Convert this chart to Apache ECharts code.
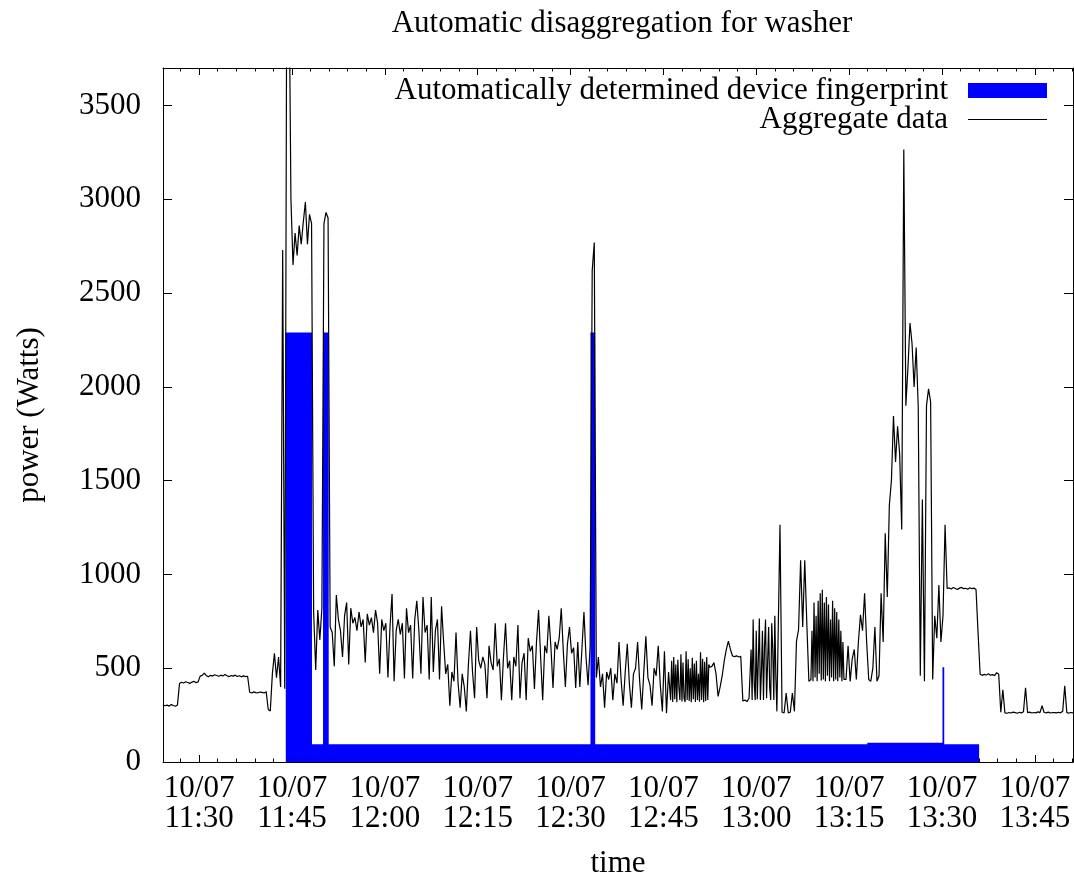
<!DOCTYPE html>
<html>
<head>
<meta charset="utf-8">
<title>Automatic disaggregation for washer</title>
<script src="https://cdn.jsdelivr.net/npm/echarts@6/dist/echarts.min.js"></script>
<style>
  html, body { margin: 0; padding: 0; background: #ffffff; }
  #chart { width: 1074px; height: 874px; }
</style>
</head>
<body>
<div id="chart"></div>
<script>
// ---- data ----------------------------------------------------------------
const chartTitle = 'Automatic disaggregation for washer';
const dateLabel = '10/07';
const tickTimes = ['11:30', '11:45', '12:00', '12:15', '12:30', '12:45', '13:00', '13:15', '13:30', '13:45'];
const powerTicks = [0, 500, 1000, 1500, 2000, 2500, 3000, 3500];

// aggregate meter readings, logged in runs; each run has its own start time and sample period
const runStarts = ['11:24:10', '12:46:10', '12:52:50', '12:59:10', '13:03:50', '13:08:50', '13:14:30'];
const runStepSeconds = [20, 10, 20, 10, 20, 10, 20];

const watts1 = [   // 11:24:10 - 12:45:50
  305, 300, 303, 298, 306, 301, 297, 304,
  418, 425, 421, 428, 424, 419, 426, 430, 423, 427,
  458, 462, 474, 460, 455, 462, 458, 465, 461, 457, 463, 459, 466, 460, 455, 461, 458, 463, 456, 460, 454, 459, 455, 457,
  372, 368, 374, 370, 369, 373, 371, 368, 375,
  280, 272, 470, 580, 450, 560, 400,
  2730, 390, 4300, 4300, 3000, 2650,
  2820, 2700, 2860, 2760, 2880, 2985, 2760, 2920, 2870,
  800, 490, 810, 650, 820,
  2870, 2930, 2900, 720,
  690, 510, 890, 760, 700, 560, 780, 850, 520, 820, 740, 770, 700, 800, 720, 760, 530, 790, 730, 770,
  690, 810, 740, 470, 760, 700, 740, 450, 720, 895, 430, 700, 760, 680, 740, 445, 820, 690, 730, 445,
  760, 860, 700, 470, 880, 690, 730, 440, 880, 480, 700, 760, 440, 830, 640,
  470, 520, 300, 480, 430, 690, 420, 290, 470, 400, 270, 520,
  700, 480, 340, 720, 540, 500, 560, 520, 340, 620, 530, 490, 740, 510, 550, 330, 560, 740, 500, 540,
  330, 560, 510, 730, 340, 530, 580, 330, 660,
  590, 620, 390, 640, 810, 560, 330, 620, 580, 780, 610, 395, 640, 600, 660, 820, 590, 400, 630, 720,
  580, 610, 395, 640, 400, 600, 800, 560, 410, 620,
  2620, 2770, 450,
  560, 400, 470, 290, 480, 440, 500, 330, 470, 420, 640, 440, 300, 480, 630, 420, 290, 470, 500, 640,
  430, 280, 480, 670, 450, 410, 300, 500, 460, 620, 410, 270, 590, 260, 480
];
const watts2 = [   // 12:46:10 - 12:52:30
  330, 540, 320, 560, 335, 520, 318, 545, 400, 330, 575, 322, 530, 340, 320, 590, 330, 548, 325, 500,
  318, 556, 335, 525, 320, 540, 330, 470, 322, 585, 330, 550, 318, 535, 325, 560, 330, 520, 505
];
const watts3 = [   // 12:52:50 - 12:58:50
  510, 530, 470, 350, 400, 460, 540, 600, 645, 600, 565, 562, 566, 560, 563, 325, 330, 322, 340
];
const watts4 = [   // 12:59:10 - 13:03:30
  600, 330, 760, 420, 330, 700, 335, 540, 765, 330, 480, 700, 330, 620, 760, 340, 330, 720, 400, 330,
  740, 600, 330, 780, 450, 270, 265
];
const watts5 = [   // 13:03:50 - 13:08:30
  1265, 265, 262, 368, 262, 265, 368, 270, 645, 705, 1075, 720, 1075, 740, 430
];
const watts6 = [   // 13:08:50 - 13:14:10
  440, 700, 430, 850, 450, 780, 430, 860, 470, 900, 435, 918, 440, 850, 430, 880, 460, 840, 430, 760,
  450, 860, 430, 820, 440, 800, 430, 760, 450, 700, 430, 640, 440
];
const watts7 = [   // 13:14:30 - 13:51:10
  440, 620, 430, 550, 600, 440, 640, 785, 700, 900, 640, 440, 430, 500, 720, 430, 460, 900, 640,
  1220, 880, 1370, 1500, 1845, 1600, 1790, 1640, 1240, 3265, 1900, 2100, 2340, 2230, 2000, 2210,
  1890, 460, 1400, 430, 1900, 1990, 1920, 440, 780, 660, 944, 640, 780, 1265, 925,
  928, 922, 930, 925, 920, 927, 931, 924, 926, 921, 929, 924, 927, 920, 687, 468,
  462, 467, 464, 470, 463, 466, 461, 476, 468,
  265, 385, 262, 260, 264, 261, 266, 263, 260, 265, 262, 268, 396, 263, 266, 261, 264, 262, 267, 263,
  300, 264, 262, 266, 261, 264, 263, 262, 265, 262, 270, 406, 263, 261, 264, 262
];
const runWatts = [watts1, watts2, watts3, watts4, watts5, watts6, watts7];

// detected appliance power: each level holds until the next change time
const fingerprintTimes = ['11:44:00', '11:48:14', '11:50:01', '11:50:56', '12:33:13', '12:33:59',
                          '13:17:56', '13:30:05', '13:30:22', '13:36:00'];
const fingerprintWatts = [2290, 94, 2290, 94, 2290, 94, 103, 505, 94, 0];

// ---- helpers ---------------------------------------------------------------
function toMinutes(hms) {
  const p = hms.split(':').map(Number);
  return p[0] * 60 + p[1] + (p[2] || 0) / 60;
}
function two(n) { return (n < 10 ? '0' : '') + n; }

const aggregateData = [];
runWatts.forEach((run, k) => {
  const t0 = toMinutes(runStarts[k]);
  run.forEach((w, i) => aggregateData.push([t0 + i * runStepSeconds[k] / 60, w]));
});

// piecewise-constant outline: at each change time, close the old level and open the new one
const fingerprintData = [];
fingerprintTimes.forEach((t, i) => {
  const m = toMinutes(t);
  fingerprintData.push([m, i > 0 ? fingerprintWatts[i - 1] : 0]);
  fingerprintData.push([m, fingerprintWatts[i]]);
});

const xMin = aggregateData[0][0];
const xMax = aggregateData[aggregateData.length - 1][0];

const majorTicks = tickTimes.map(toMinutes);
const minorTicks = [];
for (let m = Math.ceil(xMin / 3) * 3; m <= xMax; m += 3) minorTicks.push(m);

const FONT = 'Liberation Serif';
const FS = 31;
const black = '#000000';
const blue = '#0000ff';

function xAxisDef(position, ticks, len, withLine, withLabels) {
  return {
    type: 'value', position: position, min: xMin, max: xMax,
    axisLine: { show: withLine, onZero: false, lineStyle: { color: black, width: 1 } },
    axisTick: { show: true, inside: true, length: len, customValues: ticks, lineStyle: { color: black, width: 1 } },
    axisLabel: withLabels ? {
      show: true, customValues: majorTicks, margin: 12, color: black,
      fontFamily: FONT, fontSize: FS, lineHeight: 30,
      formatter: v => {
        const total = Math.round(v);
        return dateLabel + '\n' + two(Math.floor(total / 60)) + ':' + two(total % 60);
      }
    } : { show: false },
    splitLine: { show: false },
    name: withLabels ? 'time' : '',
    nameLocation: 'middle', nameGap: 86,
    nameTextStyle: { fontFamily: FONT, fontSize: FS, color: black }
  };
}

// the fingerprint is one filled step polygon, every vertex placed through the axes
function renderFingerprint(params, api) {
  if (params.dataIndex !== 0) return null;
  const pts = fingerprintData.map(d => api.coord(d));
  return {
    type: 'polygon',
    shape: { points: pts },
    style: { fill: blue, stroke: null }
  };
}

const chart = echarts.init(document.getElementById('chart'), null, { renderer: 'canvas' });
chart.setOption({
  animation: false,
  backgroundColor: '#ffffff',
  title: {
    text: chartTitle, left: 622, top: 8, textAlign: 'center', padding: 0,
    textStyle: { fontFamily: FONT, fontSize: FS, fontWeight: 'normal', color: black }
  },
  legend: [
    {
      data: [{ name: 'Automatically determined device fingerprint', icon: 'rect', itemStyle: { color: blue } }],
      right: 27, top: 75, padding: 0, align: 'right', itemWidth: 79, itemHeight: 15,
      selectedMode: false,
      textStyle: { fontFamily: FONT, fontSize: FS, color: black, padding: [0, 15, 0, 0] }
    },
    {
      data: [{ name: 'Aggregate data', icon: 'rect', itemStyle: { color: black } }],
      right: 27, top: 104, padding: 0, align: 'right', itemWidth: 79, itemHeight: 1,
      selectedMode: false,
      textStyle: { fontFamily: FONT, fontSize: FS, color: black, padding: [0, 15, 0, 0] }
    }
  ],
  grid: { left: 163, right: 1, top: 68, bottom: 112, containLabel: false, outerBoundsMode: 'none' },
  xAxis: [
    xAxisDef('bottom', majorTicks, 7, true, true),
    xAxisDef('bottom', minorTicks, 3.5, false, false),
    xAxisDef('top', majorTicks, 7, true, false),
    xAxisDef('top', minorTicks, 3.5, false, false)
  ],
  yAxis: [
    {
      type: 'value', position: 'left', min: 0, max: 3700,
      axisLine: { show: true, lineStyle: { color: black, width: 1 } },
      axisTick: { show: true, inside: true, length: 9, customValues: powerTicks, lineStyle: { color: black } },
      axisLabel: {
        show: true, customValues: powerTicks, margin: 22, color: black, fontFamily: FONT, fontSize: FS,
        formatter: v => String(v)
      },
      splitLine: { show: false },
      name: 'power (Watts)', nameLocation: 'middle', nameGap: 118, nameRotate: 90,
      nameTextStyle: { fontFamily: FONT, fontSize: FS, color: black }
    },
    {
      type: 'value', position: 'right', min: 0, max: 3700,
      axisLine: { show: true, lineStyle: { color: black, width: 1 } },
      axisTick: { show: true, inside: true, length: 9, customValues: powerTicks, lineStyle: { color: black } },
      axisLabel: { show: false },
      splitLine: { show: false }
    }
  ],
  series: [
    {
      name: 'Automatically determined device fingerprint',
      type: 'custom', coordinateSystem: 'cartesian2d',
      xAxisIndex: 0, yAxisIndex: 0,
      data: fingerprintData,
      renderItem: renderFingerprint,
      itemStyle: { color: blue },
      clip: true, z: 2, silent: true
    },
    {
      name: 'Aggregate data',
      type: 'line', data: aggregateData,
      xAxisIndex: 0, yAxisIndex: 0,
      symbol: 'none', color: black,
      lineStyle: { width: 1.2, color: black },
      clip: true, z: 3, silent: true
    }
  ]
});
</script>
</body>
</html>
